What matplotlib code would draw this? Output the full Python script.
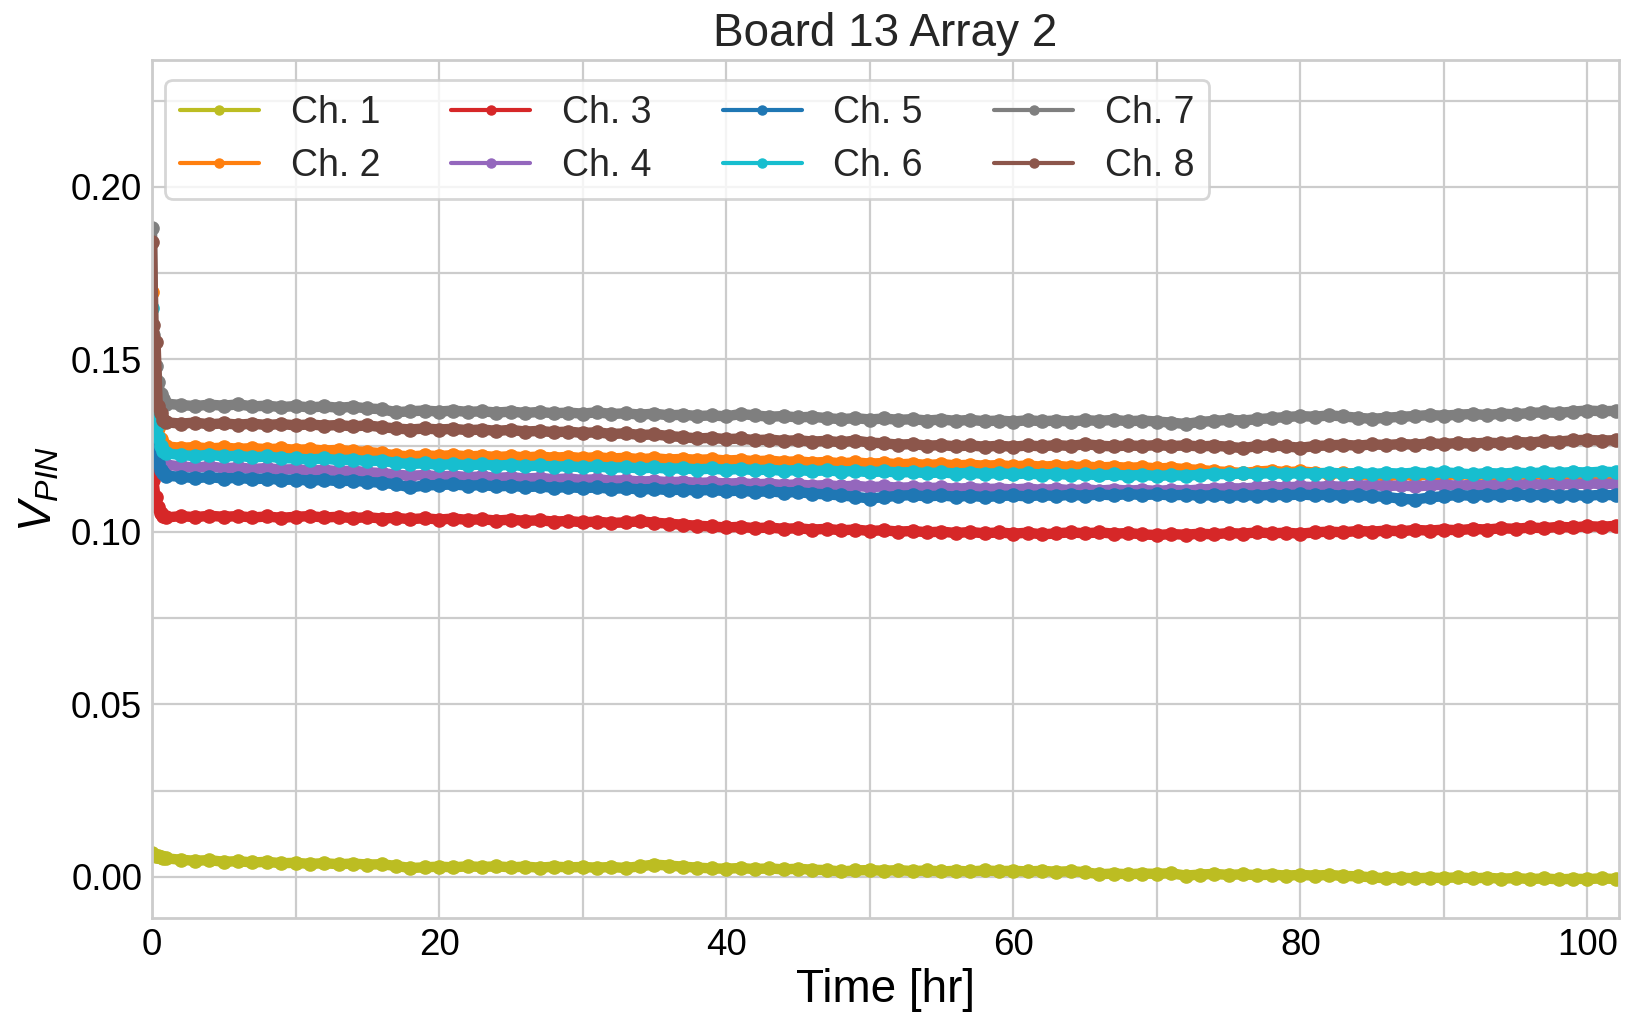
import numpy as np
import matplotlib
matplotlib.use("Agg")
import matplotlib.pyplot as plt
from matplotlib.lines import Line2D
from matplotlib.ticker import MultipleLocator, FormatStrFormatter

# ---- data ----
channels = ["Ch. 1", "Ch. 2", "Ch. 3", "Ch. 4", "Ch. 5", "Ch. 6", "Ch. 7", "Ch. 8"]
colors = ["#bcbd22", "#ff7f0e", "#d62728", "#9467bd",
          "#1f77b4", "#17becf", "#7f7f7f", "#8c564b"]

# start-up transient, then one reading per hour
t_start = [0.0, 0.1, 0.25, 0.4, 0.6, 0.8]
t_hourly = list(range(1, 103))

start_ch1 = [.0070, .0065, .0062, .0060, .0058, .0056]
start_ch2 = [.1697, .1450, .1330, .1300, .1270, .1255]
start_ch3 = [.1300, .1150, .1100, .1073, .1055, .1045]
start_ch4 = [.1560, .1350, .1260, .1230, .1210, .1200]
start_ch5 = [.1600, .1350, .1240, .1200, .1180, .1170]
start_ch6 = [.1650, .1395, .1300, .1276, .1250, .1235]
start_ch7 = [.1880, .1570, .1480, .1436, .1400, .1385]
start_ch8 = [.1841, .1600, .1550, .1365, .1344, .1325]

ch1 = [.0054, .0050, .0047, .0049, .0044, .0046, .0042, .0044, .0040, .0041,
       .0038, .0040, .0037, .0039, .0036, .0037, .0032, .0026, .0028, .0030,
       .0028, .0031, .0029, .0031, .0028, .0030, .0027, .0030, .0028, .0029,
       .0027, .0029, .0026, .0031, .0036, .0033, .0030, .0027, .0025, .0024,
       .0026, .0023, .0025, .0022, .0024, .0021, .0020, .0016, .0019, .0020,
       .0018, .0020, .0017, .0019, .0016, .0018, .0016, .0019, .0017, .0018,
       .0016, .0018, .0015, .0017, .0014, .0008, .0010, .0008, .0010, .0009,
       .0011, .0004, .0007, .0009, .0006, .0008, .0005, .0007, .0004, .0006,
       .0004, .0006, .0003, .0002, -.0001, -.0004, -.0002, -.0004, -.0002, -.0003,
       -.0001, -.0004, -.0002, -.0005, -.0003, -.0006, -.0004, -.0007, -.0005, -.0006,
       -.0004, -.0006]

ch2 = [.1248, .1244, .1246, .1242, .1245, .1241, .1243, .1240, .1242, .1238,
       .1240, .1236, .1238, .1234, .1232, .1228, .1222, .1219, .1222, .1220,
       .1223, .1219, .1221, .1217, .1220, .1216, .1219, .1215, .1218, .1214,
       .1217, .1213, .1215, .1211, .1214, .1210, .1212, .1209, .1211, .1207,
       .1209, .1205, .1207, .1203, .1205, .1201, .1203, .1199, .1202, .1198,
       .1200, .1196, .1198, .1194, .1197, .1193, .1195, .1192, .1194, .1190,
       .1193, .1189, .1192, .1188, .1190, .1187, .1189, .1186, .1188, .1184,
       .1186, .1182, .1180, .1176, .1174, .1171, .1175, .1178, .1173, .1176,
       .1172, .1169, .1171, .1167, .1165, .1162, .1166, .1163, .1167, .1164,
       .1168, .1165, .1167, .1164, .1168, .1165, .1169, .1166, .1168, .1165,
       .1167, .1166]

ch3 = [.1042, .1046, .1043, .1047, .1044, .1046, .1042, .1045, .1041, .1044,
       .1046, .1042, .1044, .1040, .1043, .1039, .1041, .1037, .1040, .1036,
       .1039, .1035, .1037, .1033, .1036, .1032, .1034, .1030, .1032, .1028,
       .1030, .1026, .1028, .1031, .1027, .1024, .1021, .1018, .1016, .1013,
       .1015, .1011, .1013, .1009, .1011, .1007, .1009, .1005, .1007, .1003,
       .1005, .1001, .1003, .0999, .1001, .0997, .1000, .0996, .0999, .0995,
       .0998, .0993, .0996, .0999, .0996, .0999, .0995, .0997, .0993, .0991,
       .0994, .0992, .0995, .0993, .0997, .0995, .0999, .0996, .0998, .0995,
       .0999, .1001, .0999, .1003, .1001, .1004, .1002, .1006, .1004, .1007,
       .1005, .1009, .1007, .1011, .1009, .1013, .1011, .1015, .1013, .1017,
       .1015, .1018]

ch4 = [.1195, .1190, .1187, .1190, .1185, .1187, .1183, .1185, .1181, .1182,
       .1178, .1180, .1176, .1178, .1173, .1171, .1166, .1163, .1165, .1161,
       .1163, .1159, .1161, .1157, .1159, .1155, .1157, .1153, .1155, .1151,
       .1153, .1149, .1150, .1146, .1148, .1144, .1146, .1142, .1144, .1140,
       .1142, .1138, .1140, .1136, .1138, .1134, .1136, .1132, .1134, .1130,
       .1132, .1128, .1130, .1127, .1129, .1125, .1128, .1124, .1126, .1123,
       .1126, .1122, .1125, .1121, .1124, .1120, .1123, .1120, .1122, .1119,
       .1122, .1120, .1123, .1125, .1127, .1126, .1129, .1131, .1129, .1132,
       .1130, .1133, .1131, .1134, .1136, .1133, .1135, .1132, .1135, .1137,
       .1134, .1137, .1135, .1138, .1136, .1139, .1137, .1140, .1138, .1141,
       .1139, .1140]

ch5 = [.1163, .1160, .1156, .1159, .1155, .1157, .1153, .1155, .1151, .1152,
       .1149, .1151, .1147, .1149, .1145, .1143, .1138, .1129, .1135, .1136,
       .1138, .1134, .1136, .1132, .1134, .1130, .1132, .1128, .1130, .1127,
       .1129, .1125, .1127, .1123, .1125, .1121, .1123, .1120, .1122, .1118,
       .1120, .1116, .1118, .1114, .1116, .1111, .1109, .1106, .1102, .1097,
       .1101, .1105, .1107, .1103, .1106, .1102, .1105, .1101, .1104, .1106,
       .1103, .1107, .1104, .1108, .1105, .1109, .1106, .1110, .1107, .1109,
       .1106, .1108, .1105, .1107, .1104, .1107, .1105, .1108, .1106, .1109,
       .1106, .1108, .1105, .1107, .1104, .1102, .1096, .1094, .1100, .1104,
       .1107, .1105, .1108, .1106, .1109, .1106, .1108, .1105, .1107, .1105,
       .1108, .1106]

ch6 = [.1228, .1223, .1220, .1224, .1219, .1221, .1216, .1219, .1214, .1213,
       .1210, .1213, .1208, .1210, .1205, .1207, .1200, .1197, .1199, .1194,
       .1197, .1193, .1196, .1192, .1195, .1190, .1193, .1189, .1191, .1187,
       .1190, .1186, .1188, .1184, .1187, .1183, .1185, .1181, .1184, .1180,
       .1183, .1179, .1181, .1177, .1180, .1176, .1179, .1175, .1177, .1173,
       .1176, .1172, .1174, .1170, .1173, .1169, .1172, .1168, .1171, .1167,
       .1170, .1166, .1169, .1165, .1168, .1164, .1167, .1163, .1166, .1162,
       .1165, .1163, .1166, .1169, .1167, .1170, .1168, .1171, .1168, .1171,
       .1169, .1172, .1169, .1171, .1168, .1171, .1169, .1172, .1170, .1173,
       .1170, .1167, .1171, .1169, .1172, .1170, .1173, .1171, .1174, .1172,
       .1175, .1173]

ch7 = [.1372, .1368, .1365, .1369, .1366, .1370, .1364, .1366, .1362, .1365,
       .1361, .1364, .1360, .1363, .1358, .1356, .1347, .1350, .1352, .1349,
       .1352, .1348, .1350, .1346, .1349, .1345, .1348, .1344, .1346, .1343,
       .1347, .1342, .1344, .1340, .1343, .1338, .1340, .1336, .1338, .1335,
       .1342, .1338, .1334, .1336, .1332, .1334, .1330, .1327, .1330, .1326,
       .1329, .1325, .1327, .1323, .1326, .1322, .1325, .1321, .1323, .1320,
       .1324, .1321, .1323, .1320, .1324, .1322, .1325, .1321, .1323, .1320,
       .1317, .1313, .1319, .1322, .1325, .1323, .1327, .1330, .1333, .1336,
       .1334, .1338, .1335, .1331, .1328, .1331, .1334, .1336, .1339, .1337,
       .1340, .1342, .1339, .1343, .1341, .1345, .1347, .1345, .1349, .1352,
       .1350, .1351]

ch8 = [.1318, .1314, .1317, .1312, .1315, .1311, .1314, .1310, .1313, .1309,
       .1312, .1308, .1310, .1306, .1309, .1304, .1300, .1297, .1300, .1297,
       .1299, .1295, .1297, .1293, .1296, .1291, .1293, .1289, .1291, .1287,
       .1289, .1284, .1286, .1281, .1283, .1278, .1275, .1271, .1273, .1269,
       .1271, .1266, .1268, .1264, .1266, .1262, .1264, .1260, .1265, .1259,
       .1257, .1253, .1255, .1250, .1252, .1248, .1251, .1247, .1250, .1247,
       .1251, .1248, .1252, .1249, .1255, .1250, .1248, .1251, .1249, .1252,
       .1249, .1251, .1248, .1250, .1247, .1243, .1249, .1251, .1248, .1244,
       .1249, .1251, .1253, .1250, .1254, .1252, .1255, .1253, .1257, .1255,
       .1258, .1256, .1259, .1257, .1261, .1259, .1263, .1262, .1266, .1267,
       .1265, .1266]

starts = [start_ch1, start_ch2, start_ch3, start_ch4,
          start_ch5, start_ch6, start_ch7, start_ch8]
hourly = [ch1, ch2, ch3, ch4, ch5, ch6, ch7, ch8]

# ---- style ----
plt.style.use("seaborn-v0_8-whitegrid")
plt.rcParams["font.family"] = ["Liberation Sans", "DejaVu Sans"]
plt.rcParams["mathtext.fontset"] = "custom"
plt.rcParams["mathtext.rm"] = "Liberation Sans"
plt.rcParams["mathtext.it"] = "Liberation Sans:italic"

fig = plt.figure(figsize=(16.27, 10.17), dpi=100)
ax = fig.add_axes([0.0934, 0.0973, 0.9017, 0.8437])

time = np.array(t_start + t_hourly, dtype=float)
for name, col, s, h in zip(channels, colors, starts, hourly):
    v = np.array(s + h)
    ax.plot(time, v, color=col, lw=7.5, marker="o", ms=9.5,
            solid_capstyle="round", solid_joinstyle="round")

ax.set_xlim(0, 102.2)
ax.set_ylim(-0.0119, 0.2368)
ax.xaxis.set_major_locator(MultipleLocator(20))
ax.xaxis.set_minor_locator(MultipleLocator(10))
ax.yaxis.set_major_locator(MultipleLocator(0.05))
ax.yaxis.set_minor_locator(MultipleLocator(0.025))
ax.yaxis.set_major_formatter(FormatStrFormatter("%.2f"))
ax.grid(which="both", color="#cccccc", lw=1.6)
ax.tick_params(which="both", length=0, pad=7, labelsize=26.5, colors="black")
for sp in ax.spines.values():
    sp.set_visible(True)
    sp.set_color("#cccccc")
    sp.set_linewidth(2)

ax.set_title("Board 13 Array 2", fontsize=33, pad=10, color="#262626")
ax.set_xlabel("Time [hr]", fontsize=33, labelpad=4, color="black")
ax.set_ylabel("$V_{PIN}$", fontsize=33, labelpad=7, color="black")

handles = [Line2D([0], [0], color=c, lw=3, marker="o", ms=6.5) for c in colors]
leg = ax.legend(handles, channels, ncol=4, loc="upper left",
                bbox_to_anchor=(0.0089, 0.9767), borderaxespad=0,
                fontsize=27, frameon=True, fancybox=True, framealpha=0.8,
                edgecolor="#cccccc", facecolor="white",
                handlelength=2.1, handletextpad=0.85, columnspacing=1.9,
                labelspacing=0.45)
leg.get_frame().set_linewidth(2)
for txt in leg.get_texts():
    txt.set_color("#262626")

fig.savefig("out.png", dpi=100)
